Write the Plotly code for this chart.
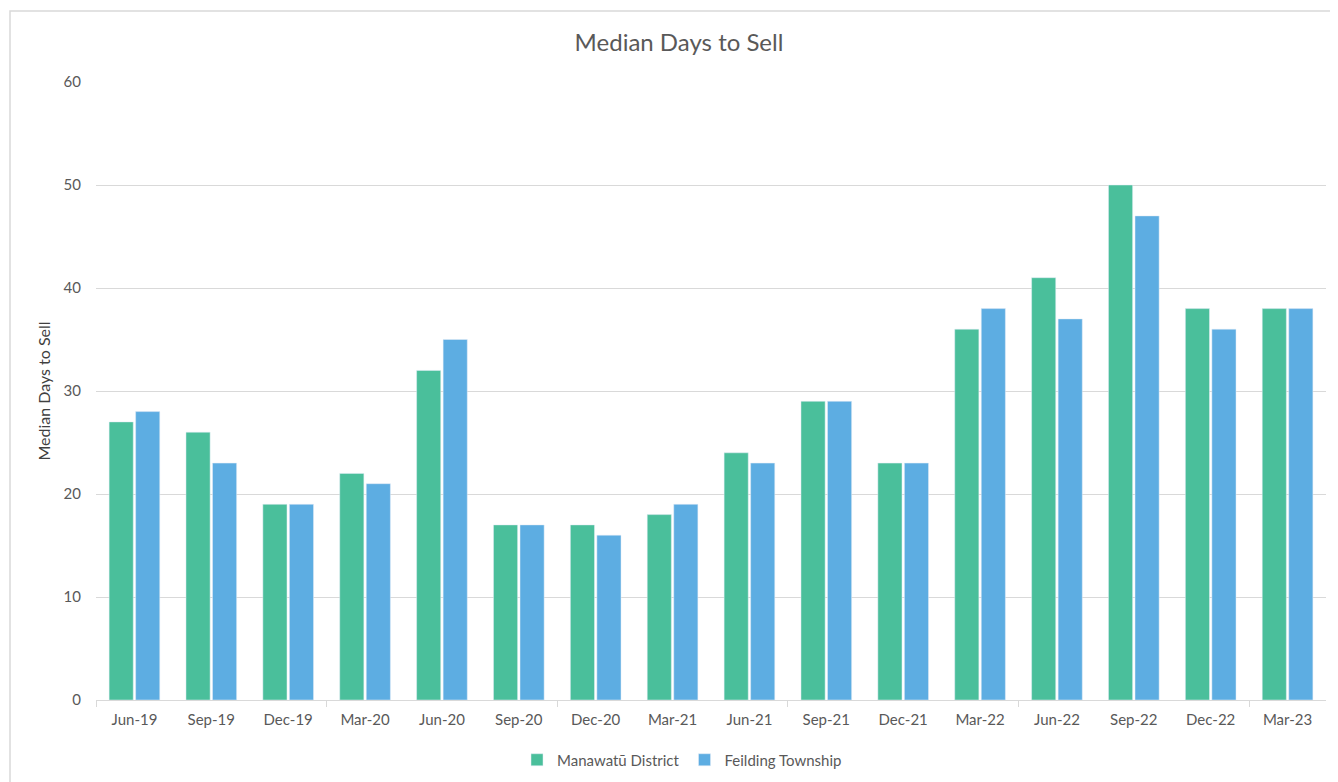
import plotly.graph_objects as go

categories = ["Jun-19", "Sep-19", "Dec-19", "Mar-20", "Jun-20", "Sep-20", "Dec-20", "Mar-21",
              "Jun-21", "Sep-21", "Dec-21", "Mar-22", "Jun-22", "Sep-22", "Dec-22", "Mar-23"]
manawatu = [27, 26, 19, 22, 32, 17, 17, 18, 24, 29, 23, 36, 41, 50, 38, 38]
feilding = [28, 23, 19, 21, 35, 17, 16, 19, 23, 29, 23, 38, 37, 47, 36, 38]
y_ticks = [0, 10, 20, 30, 40, 50, 60]

# page body has an 8px margin; figure coords = screen coords - 8
W, H = 1330, 774
L, R, T, B = 88, 12, 74, 82
pw, ph = W - L - R, H - T - B

xs = list(range(len(categories)))
font = "Lato, 'Open Sans', sans-serif"

fig = go.Figure()
fig.add_trace(go.Bar(x=xs, y=manawatu, name="Manawatū District", marker_color="#4ABF9B"))
fig.add_trace(go.Bar(x=xs, y=feilding, name="Feilding Township", marker_color="#5DADE2"))
# invisible trace on secondary axis to show tick marks every 3 categories
fig.add_trace(go.Scatter(x=[-0.5, len(categories) - 0.5], y=[0, 0], xaxis="x2", mode="markers",
                         marker=dict(opacity=0), showlegend=False, hoverinfo="skip"))

fig.update_layout(
    width=W, height=H,
    margin=dict(l=L, r=R, t=T, b=B, autoexpand=False),
    paper_bgcolor="white", plot_bgcolor="white",
    font=dict(family=font, color="#595959", size=15),
    title=dict(text="Median Days to Sell", x=(679 - 8) / W, xanchor="center",
               y=1 - 35 / H, yanchor="middle", font=dict(size=24, color="#595959")),
    barmode="group", bargap=0.31, bargroupgap=0.09,
    xaxis=dict(range=[-0.5, len(categories) - 0.5], tickvals=xs, ticktext=categories,
               showgrid=False, zeroline=False, showline=True, linecolor="#d9d9d9", linewidth=1,
               ticks="", ticklabelstandoff=6, tickfont=dict(size=15, color="#595959")),
    xaxis2=dict(overlaying="x", range=[-0.5, len(categories) - 0.5],
                tickvals=[-0.5 + 3 * i for i in range(6)], ticktext=[""] * 6,
                ticks="outside", ticklen=6, tickcolor="#d9d9d9", showgrid=False,
                zeroline=False, showline=False, side="bottom"),
    yaxis=dict(range=[0, 60], tickvals=y_ticks, showgrid=True, gridcolor="#d9d9d9", gridwidth=1,
               zeroline=False, showline=False, ticks="", ticklabelstandoff=14,
               tickfont=dict(size=15, color="#595959"),
               title=dict(text="Median Days to Sell", font=dict(size=16, color="#404040"), standoff=8)),
    legend=dict(orientation="h", x=(682 - 8 - L) / pw, xanchor="center", y=-(752 - (H - B)) / ph,
                yanchor="middle", font=dict(size=15, color="#595959"), itemwidth=30,
                traceorder="normal"),
    shapes=[dict(type="rect", xref="paper", yref="paper",
                 x0=(2 - L) / pw, x1=(W + 20 - L) / pw,
                 y0=-(H + 20 - (H - B)) / ph, y1=((H - B) - 3) / ph,
                 line=dict(color="#d9d9d9", width=1.5), fillcolor="rgba(0,0,0,0)", layer="below")],
)

fig.write_html("out.html")
